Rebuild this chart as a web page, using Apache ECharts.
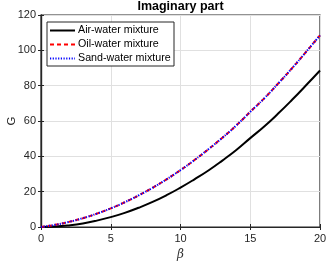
<!DOCTYPE html>
<html><head><meta charset="utf-8">
<script src="https://cdn.jsdelivr.net/npm/echarts@6/dist/echarts.min.js"></script>
<style>html,body{margin:0;padding:0;background:#fff}#c{width:327px;height:265px}</style>
</head><body><div id="c"></div>
<script>
const beta = [0,1,2,3,4,5,6,7,8,9,10,11,12,13,14,15,16,17,18,19,20];
const airWater = [0,0.22,0.9,2.0,3.6,5.6,8.0,10.9,14.2,18.0,22.3,27.0,32.0,37.6,43.6,50.3,56.9,64.2,72.0,80.2,88.6];
const oilWater = [0,1.22,2.89,5.0,7.55,10.55,14.0,17.9,22.2,27.0,32.2,37.9,44.0,50.5,57.5,65.2,72.8,81.2,89.9,99.1,108.5];
const sandWater = [0,1.22,2.89,5.0,7.55,10.55,14.0,17.9,22.2,27.0,32.2,37.9,44.0,50.5,57.5,65.2,72.8,81.2,89.9,99.1,108.5];
const xTicks = [0,5,10,15,20];
const yTicks = [0,20,40,60,80,100,120];
const seriesNames = ['Air-water mixture','Oil-water mixture','Sand-water mixture'];

const pairs = arr => beta.map((b,i)=>[b,arr[i]]);
const FONT = 'Liberation Sans';
const AX = '#262626';
const styles = [
  {color:'#000', width:2, type:'solid'},
  {color:'#ff0000', width:2, type:[4,3]},
  {color:'#0000ff', width:2, type:[1.2,1.5]}
];
const chart = echarts.init(document.getElementById('c'), null, {renderer:'canvas'});
const tickInside = {show:true, inside:true, length:3, lineStyle:{color:AX, width:1}};

// legend drawn as graphic (box at 47,22 - 174,66)
const LX = 47, LY = 22, LW = 127, LH = 44, ROW0 = 30.5, ROWH = 14;
const legendGraphics = [{type:'rect', shape:{x:LX, y:LY, width:LW, height:LH}, style:{fill:'#fff', stroke:AX, lineWidth:1}, z:100}];
seriesNames.forEach((n,i)=>{
  const y = ROW0 + i*ROWH;
  legendGraphics.push({type:'line', shape:{x1:50, y1:y, x2:75, y2:y}, style:{stroke:styles[i].color, lineWidth:2, lineDash: styles[i].type==='solid'?null:styles[i].type}, z:101});
  legendGraphics.push({type:'text', x:78, y:y, style:{text:n, font:'10.7px "Liberation Sans"', fill:'#000', textVerticalAlign:'middle'}, z:101});
});

chart.setOption({
  animation:false,
  textStyle:{fontFamily:FONT},
  grid:{left:41, right:7, top:15, bottom:38, containLabel:false, outerBoundsMode:'none', show:true, borderColor:AX, borderWidth:1.2, backgroundColor:'#fff'},
  graphic:[
    {type:'text', x:180.5, y:6.5, style:{text:'Imaginary part', font:'bold 12.5px "Liberation Sans"', fill:'#000', textAlign:'center', textVerticalAlign:'middle'}},
    {type:'text', x:12, y:121, rotation:Math.PI/2, style:{text:'G', font:'11.5px "Liberation Sans"', fill:'#262626', textAlign:'center', textVerticalAlign:'middle'}}
  ].concat(legendGraphics),
  xAxis:[
    {type:'value', min:xTicks[0], max:xTicks[xTicks.length-1], interval:5, position:'bottom',
     name:'β', nameLocation:'middle', nameGap:20,
     nameTextStyle:{fontFamily:'DejaVu Serif', fontStyle:'italic', fontSize:12, color:'#333'},
     axisLine:{show:true, onZero:false, lineStyle:{color:AX, width:1.2}},
     axisTick:tickInside, axisLabel:{fontSize:11, color:AX, margin:6},
     splitLine:{show:true, lineStyle:{color:'#e0e0e0', width:1}}},
    {type:'value', min:0, max:20, interval:5, position:'top',
     axisLine:{show:true, lineStyle:{color:AX, width:1.2}}, axisTick:tickInside,
     axisLabel:{show:false}, splitLine:{show:false}}
  ],
  yAxis:[
    {type:'value', min:yTicks[0], max:yTicks[yTicks.length-1], interval:20, position:'left',
     axisLine:{show:true, onZero:false, lineStyle:{color:AX, width:1.2}},
     axisTick:tickInside, axisLabel:{fontSize:11, color:AX, margin:5},
     splitLine:{show:true, lineStyle:{color:'#e0e0e0', width:1}}},
    {type:'value', min:0, max:120, interval:20, position:'right',
     axisLine:{show:true, lineStyle:{color:AX, width:1.2}}, axisTick:tickInside,
     axisLabel:{show:false}, splitLine:{show:false}}
  ],
  series:seriesNames.map((n,i)=>({
    name:n, type:'line', data:pairs([airWater,oilWater,sandWater][i]), showSymbol:false, symbol:'none', smooth:true,
    lineStyle:styles[i], itemStyle:{color:styles[i].color}, z:2+i
  }))
});
</script></body></html>
